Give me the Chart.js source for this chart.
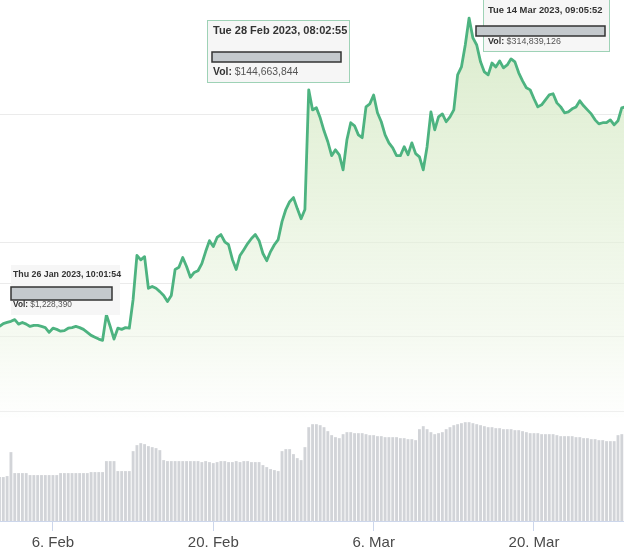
<!DOCTYPE html>
<html>
<head>
<meta charset="utf-8">
<script src="https://cdn.jsdelivr.net/npm/chart.js@4.4.1/dist/chart.umd.min.js"></script>
<style>
  html,body{margin:0;padding:0;background:#fff;}
  #wrap{width:624px;height:555px;position:relative;}
</style>
</head>
<body>
<div id="wrap"><canvas id="c" width="624" height="555"></canvas></div>
<script>
// ---- data ----
const seriesStart = '2023-02-01T08:00:00Z';
const stepHours = 8;
const prices = [
  3.17,3.22,3.24,3.26,3.29,3.21,3.24,3.21,3.17,3.19,
  3.19,3.17,3.15,3.07,3.14,3.12,3.09,3.10,3.14,3.15,
  3.17,3.15,3.12,3.07,3.02,2.99,2.96,2.94,3.38,3.17,
  2.96,3.14,3.12,3.15,3.14,3.67,4.66,4.55,4.63,3.90,
  3.94,3.90,3.83,3.75,3.63,3.75,4.32,4.37,4.61,4.39,
  4.14,4.25,4.29,4.46,4.76,5.05,4.89,5.14,5.22,5.02,
  4.94,4.56,4.32,4.66,4.81,4.97,5.11,5.22,5.05,4.71,
  4.53,4.76,4.94,5.08,5.60,5.98,6.24,6.38,6.01,5.69,
  5.98,11.45,10.27,10.39,9.84,9.17,8.64,8.01,8.27,8.05,
  7.42,8.73,9.58,9.42,8.97,8.83,10.44,10.61,11.14,10.11,
  9.63,8.97,8.59,8.36,8.01,8.01,8.41,8.05,8.59,8.10,
  7.96,7.42,8.41,10.16,9.22,9.89,10.05,9.63,9.89,10.27,
  12.42,12.97,14.61,16.91,15.18,14.61,13.33,12.62,12.42,13.25,
  12.97,13.40,12.90,13.11,13.55,13.33,12.56,12.02,11.58,11.45,
  10.91,10.44,10.56,10.85,11.14,11.21,10.67,10.44,10.11,10.16,
  10.33,10.44,10.79,10.50,10.27,10.05,9.73,9.52,9.58,9.58,
  9.73,9.47,9.68,10.39,10.44
];
const volumes = [
  44,44,45,69,48,48,48,48,46,46,
  46,46,46,46,46,46,48,48,48,48,
  48,48,48,48,49,49,49,49,60,60,
  60,50,50,50,50,70,76,78,77,75,
  74,73,71,61,60,60,60,60,60,60,
  60,60,60,59,60,59,58,59,60,60,
  59,59,60,59,60,60,59,59,59,56,
  54,52,51,50,70,72,72,67,63,61,
  74,94,97,97,96,94,90,86,84,83,
  87,89,89,88,88,88,87,86,86,85,
  85,84,84,84,84,83,83,82,82,81,
  92,95,92,89,87,88,89,92,94,96,
  97,98,99,99,98,97,96,95,94,94,
  93,93,92,92,92,91,91,90,89,88,
  88,88,87,87,87,87,86,85,85,85,
  85,84,84,83,83,82,82,81,81,80,
  80,80,86,87,87
];
const xTickDates = ['2023-02-06T00:00:00Z','2023-02-20T00:00:00Z','2023-03-06T00:00:00Z','2023-03-20T00:00:00Z'];
const monthNames = ['Jan','Feb','Mar','Apr','May','Jun','Jul','Aug','Sep','Oct','Nov','Dec'];
const priceGridValues = [2,3,4,5,10];
const tooltipDates = ['Thu 26 Jan 2023, 10:01:54','Tue 28 Feb 2023, 08:02:55','Tue 14 Mar 2023, 09:05:52'];
const tooltipVols = ['$1,228,390','$144,663,844','$314,839,126'];

// ---- build ----
const t0 = Date.parse(seriesStart);
const stepMs = stepHours*3600*1000;
const times = prices.map((_,i)=>t0+i*stepMs);
const priceData = prices.map((v,i)=>({x:times[i],y:v}));
const volData = volumes.map((v,i)=>({x:times[i],y:v}));
const xMin = Date.parse('2023-02-01T09:04:00Z');
const xMax = Date.parse('2023-03-27T20:37:00Z');

const boxStyles = [
  {x:11,y:265,w:109,h:50,dateSize:8.8,volSize:8.3,bar:[11,287,101,13],dateY:275,volY:305,textX:13,border:false},
  {x:207,y:20,w:143,h:63,dateSize:11,volSize:10.4,bar:[212,52,129,10],dateY:31,volY:72,textX:213,border:true},
  {x:483,y:-1,w:127,h:53,dateSize:9.4,volSize:8.9,bar:[476,26,129,10],dateY:10,volY:42,textX:488,border:true}
];
const FONT = '"Liberation Sans", Arial, Helvetica, sans-serif';

const tooltipPlugin = {
  id:'staticTips',
  afterDraw(chart){
    const ctx = chart.ctx;
    ctx.save();
    boxStyles.forEach((b,i)=>{
      ctx.fillStyle = 'rgba(245,245,245,0.95)';
      ctx.fillRect(b.x,b.y,b.w,b.h);
      if(b.border){
        ctx.strokeStyle='rgba(86,180,130,0.55)';
        ctx.lineWidth=1;
        ctx.strokeRect(b.x+0.5,b.y+0.5,b.w-1,b.h-1);
      }
      ctx.textBaseline='middle';
      ctx.fillStyle='#333';
      ctx.font='bold '+b.dateSize+'px '+FONT;
      ctx.fillText(tooltipDates[i], b.textX, b.dateY);
      ctx.fillStyle='#c4c9cd';
      ctx.fillRect(b.bar[0],b.bar[1],b.bar[2],b.bar[3]);
      ctx.strokeStyle='#333';
      ctx.lineWidth=1.5;
      ctx.strokeRect(b.bar[0],b.bar[1],b.bar[2],b.bar[3]);
      ctx.font='bold '+b.volSize+'px '+FONT;
      ctx.fillStyle='#333';
      const lab='Vol: ';
      ctx.fillText(lab, b.textX, b.volY);
      const w=ctx.measureText(lab).width;
      ctx.font=b.volSize+'px '+FONT;
      ctx.fillStyle='#555';
      ctx.fillText(tooltipVols[i], b.textX+w, b.volY);
    });
    ctx.restore();
  }
};

function fillGradient(context){
  const chart = context.chart;
  const area = chart.chartArea;
  if(!area) return 'rgba(220,235,205,0.5)';
  const g = chart.ctx.createLinearGradient(0, area.top, 0, area.top+425);
  g.addColorStop(0,'rgba(208,230,190,0.8)');
  g.addColorStop(0.45,'rgba(222,238,208,0.65)');
  g.addColorStop(0.8,'rgba(236,245,228,0.5)');
  g.addColorStop(0.96,'rgba(248,251,245,0.3)');
  g.addColorStop(1,'rgba(255,255,255,0)');
  return g;
}

new Chart(document.getElementById('c'),{
  type:'bar',
  data:{
    datasets:[
      {type:'line',label:'Price',data:priceData,yAxisID:'y',borderColor:'#4db380',borderWidth:2.8,
       pointRadius:0,tension:0,fill:'start',backgroundColor:fillGradient,order:2,borderJoinStyle:'round'},
      {type:'bar',label:'Volume',data:volData,yAxisID:'yVol',backgroundColor:'#d2d4d8',
       categoryPercentage:1,barPercentage:0.75,order:1}
    ]
  },
  options:{
    responsive:false,animation:false,devicePixelRatio:1,
    layout:{padding:{left:0,right:0,top:0,bottom:0}},
    plugins:{legend:{display:false},tooltip:{enabled:false}},
    scales:{
      x:{type:'linear',min:xMin,max:xMax,offset:false,
         afterBuildTicks(axis){axis.ticks = xTickDates.map(d=>({value:Date.parse(d)}));},
         ticks:{autoSkip:false,maxRotation:0,padding:3,color:'#4a4a4a',font:{family:FONT,size:15},
           callback(v){const d=new Date(v);return d.getUTCDate()+'. '+monthNames[d.getUTCMonth()];}},
         grid:{offset:false,drawOnChartArea:false,drawTicks:true,tickLength:10,color:'#ccd6eb'},
         border:{color:'#ccd6eb',width:1}
      },
      y:{type:'logarithmic',min:1.1026,max:18.65,position:'left',
         afterBuildTicks(axis){axis.ticks = priceGridValues.map(v=>({value:v}));},
         ticks:{display:false},
         grid:{color:'#ebebeb',drawTicks:false,tickLength:0},
         border:{display:false}
      },
      yVol:{type:'linear',min:0,max:522,display:false}
    }
  },
  plugins:[tooltipPlugin]
});
</script>
</body>
</html>
